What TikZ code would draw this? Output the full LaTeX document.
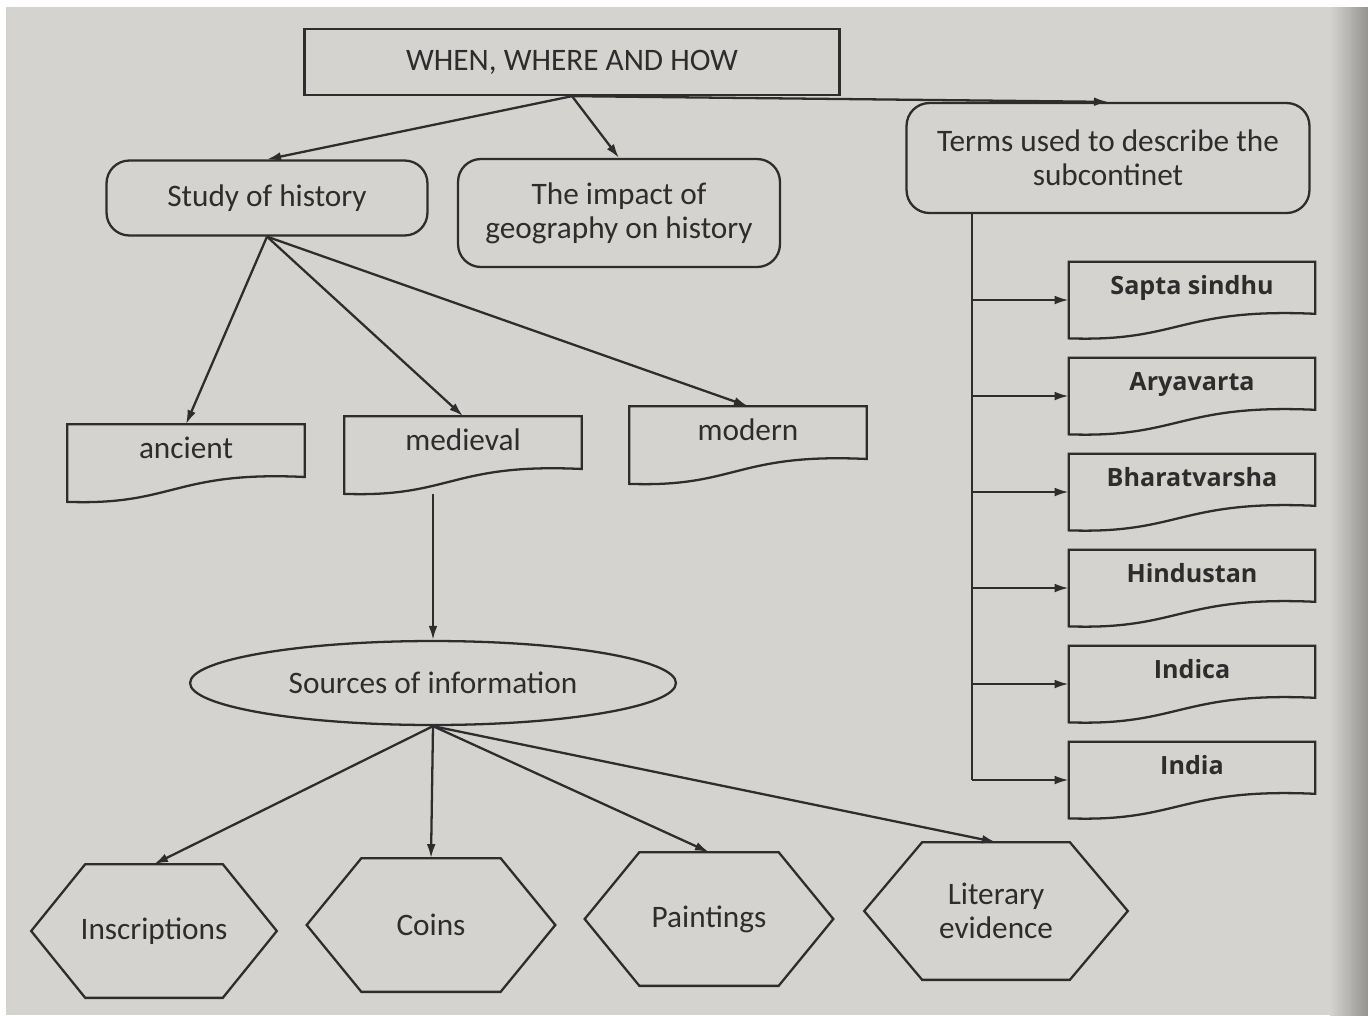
\documentclass[tikz,border=0pt]{standalone}
\usepackage{fontspec}
\setmainfont{Carlito}
\newfontfamily\listfont{Open Sans}
\usetikzlibrary{arrows.meta,calc,shapes.geometric}

\definecolor{paper}{RGB}{212,211,207}
\definecolor{ink}{RGB}{45,45,45}

\tikzset{
  inkline/.style={draw=ink, line width=1.3pt},
  link/.style={inkline, -{Latex[length=8pt,width=5pt]}},
  label18/.style={text=ink, align=center, font=\fontsize{17.8}{19.5}\selectfont},
  titlebox/.style={inkline, label18, minimum width=10.7cm, minimum height=1.32cm},
  roundbox/.style={inkline, label18, rounded corners=13pt},
  wavenode/.style={label18, inner sep=0pt, minimum width=4.74cm, text height=0.67cm, text depth=0.87cm},
  listnode/.style={text=ink, font=\listfont\bfseries\fontsize{14.3}{16}\selectfont, inner sep=0pt,
    minimum width=4.92cm, text height=0.64cm, text depth=0.88cm},
  hexnode/.style={label18, minimum width=4.9cm, minimum height=2.66cm},
}

% outline of a box with a wavy bottom
\newcommand\wavebox[1]{%
  \draw[inkline] let \p1=(#1.north west), \p2=(#1.south east), \n1={\x2-\x1}, \n2={\y1-\y2} in
    (\p1) -- (\x2,\y1) -- (\x2,{\y1-0.68*\n2})
    .. controls ({\x1+0.45*\n1},{\y1-0.6*\n2}) and ({\x1+0.45*\n1},{\y1-1.05*\n2}) .. (\x1,\y2) -- cycle;}
% outline of a flat topped hexagon
\newcommand\hexbox[1]{%
  \draw[inkline] (#1.west) -- ($(#1.north west)!0.22!(#1.north east)$) -- ($(#1.north east)!0.22!(#1.north west)$)
    -- (#1.east) -- ($(#1.south east)!0.22!(#1.south west)$) -- ($(#1.south west)!0.22!(#1.south east)$) -- cycle;}

\begin{document}
\begin{tikzpicture}[x=0.02cm, y=-0.02cm]
  \useasboundingbox (0,0) rectangle (1368,1015);
  % Page
  \fill[paper] (0,0) rectangle (1368,1015);
  \fill[white] (0,0) rectangle (1368,7);
  \fill[white] (0,0) rectangle (6,1015);
  \shade[left color=paper, right color=paper!70!black] (1330,7) rectangle (1368,1015);

  % Top row
  \node[titlebox] (title) at (572,62) {WHEN, WHERE AND HOW};
  \node[roundbox, minimum width=6.42cm, minimum height=1.5cm] (study) at (267,198) {Study of history};
  \node[roundbox, minimum width=6.44cm, minimum height=2.16cm] (impact) at (619,213) {The impact of\\geography on history};
  \node[roundbox, minimum width=8.06cm, minimum height=2.2cm] (terms) at (1108,158) {Terms used to describe the\\subcontinet};

  % Periods
  \node[wavenode] (ancient) at (186,463) {ancient};
  \node[wavenode] (medieval) at (463,455) {medieval};
  \node[wavenode] (modern) at (748,445) {modern};
  \foreach \d in {ancient,medieval,modern} \wavebox{\d};

  % Sources
  \node[inkline, ellipse, label18, inner sep=0pt, minimum width=9.72cm, minimum height=1.68cm] (sources) at (433,683) {Sources of information};
  \node[hexnode] (insc) at (154,931) {Inscriptions};
  \node[hexnode, minimum width=4.96cm] (coins) at (431,925) {Coins};
  \node[hexnode, minimum width=4.96cm] (paint) at (709,919) {Paintings};
  \node[hexnode, minimum width=5.26cm, minimum height=2.74cm] (lit) at (996,911) {Literary\\evidence};
  \foreach \h in {insc,coins,paint,lit} \hexbox{\h};

  % Names of the subcontinent
  \foreach \k/\lab [count=\i from 0] in {sapta/Sapta sindhu, arya/Aryavarta, bharat/Bharatvarsha,
      hindu/Hindustan, indica/Indica, india/India} {
    \node[listnode] (\k) at (1192,{300+96*\i}) {\lab};
    \wavebox{\k}
  }

  % Arrows
  \draw[link] (title.south) -- (study.north);
  \draw[link] (title.south) -- (impact.north);
  \draw[link] (title.south) -- (terms.north);
  \foreach \d in {ancient,medieval,modern} \draw[link] (study.south) -- (\d.north);
  \draw[link] (sources.north |- medieval.south) -- (sources.north);
  \foreach \h in {insc,coins,paint,lit} \draw[link] (sources.south) -- (\h.north);
  \coordinate (trunk) at (972,0);
  \draw[inkline] (trunk |- terms.south) -- (trunk |- india.west);
  \foreach \k in {sapta,arya,bharat,hindu,indica,india} \draw[link] (trunk |- \k.west) -- (\k.west);
\end{tikzpicture}
\end{document}
